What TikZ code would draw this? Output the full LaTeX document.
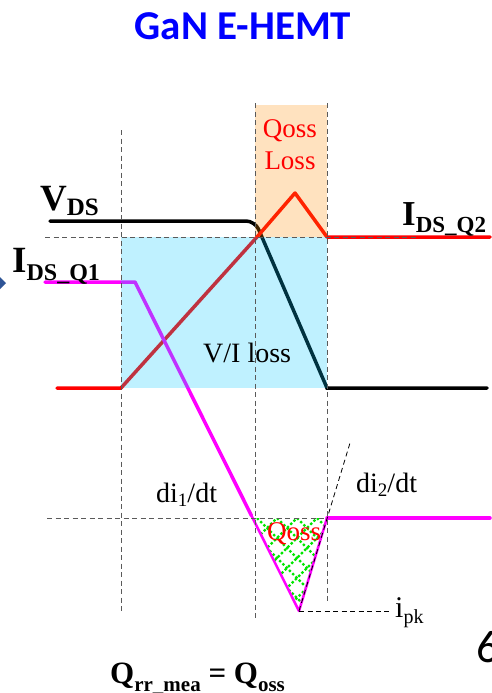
\documentclass[tikz,border=0pt]{standalone}
\usepackage{fontspec}
\setmainfont{Liberation Serif}
\newfontfamily\titlefont{Carlito}
\usetikzlibrary{calc}
\definecolor{ttlblue}{RGB}{0,0,255}
\definecolor{boxblue}{RGB}{0,200,255}
\definecolor{boxorange}{RGB}{255,140,0}
\definecolor{mag}{RGB}{255,0,255}
\definecolor{hatch}{RGB}{0,230,0}
\definecolor{dgray}{RGB}{90,90,90}
\definecolor{dmd}{RGB}{46,84,150}
\newcommand\fs[1]{\fontsize{#1}{#1}\selectfont}
\begin{document}
\begin{tikzpicture}[x=1pt,y=-1pt,
  wave/.style={line width=3.5pt,line join=round,line cap=round},
  guide/.style={draw=dgray,line width=1pt,dash pattern=on 5pt off 3.5pt},
  lbl/.style={inner sep=0pt,anchor=base west}]
\useasboundingbox (0,0) rectangle (492,693);
% coordinates
\coordinate (v0) at (50,221);
\coordinate (v1) at (255,221);
\coordinate (v2) at (327,388);
\coordinate (v3) at (487,388);
\coordinate (r0) at (57,388);
\coordinate (r1) at (121,388);
\coordinate (r2) at (257,237);
\coordinate (r3) at (295,193);
\coordinate (r4) at (327,237);
\coordinate (r5) at (490,237);
\coordinate (m0) at (45,282);
\coordinate (m1) at (135,282);
\coordinate (m2) at (299,611);
\coordinate (m3) at (327,518);
\coordinate (m4) at (490,518);
% hatch in triangle
\begin{scope}
  \clip (m2) -- (252.6,518) -- (m3) -- cycle;
  \foreach \k in {-400,-380,...,400}{
    \draw[hatch,line width=2.4pt,dash pattern=on 2.4pt off 2.2pt] (257+\k,518) -- ++(140,140);
    \draw[hatch,line width=2.4pt,dash pattern=on 2.4pt off 2.2pt] (257+\k,658) -- ++(140,-140);
  }
\end{scope}
% waveforms
\draw[wave,black,rounded corners=9pt] (v0) -- (v1) -- ($(v1)!0.5!(v2)$);
\draw[wave,black,line join=miter] ($(v1)!0.5!(v2)$) -- (v2) -- (v3);
\draw[wave,red] (r0) -- (r1) -- (r2) -- (r3) -- (r4) -- (r5);
\draw[wave,mag] (m0) -- (m1) -- ($(m1)!0.71!(m2)$);
\draw[mag,line width=2.5pt,line join=round] ($(m1)!0.7!(m2)$) -- (m2) -- (m3);
\draw[wave,mag] (m3) -- (m4);
% translucent boxes
\fill[boxblue,opacity=0.25] (121,237) rectangle (327,388);
\fill[boxorange,opacity=0.25] (255,105) rectangle (327,237);
% guides
\draw[guide] (121,130) -- (121,612);
\draw[guide] (255,103) -- (255,620);
\draw[guide] (327,103) -- (327,603);
\draw[guide] (45,237) -- (417,237);
\draw[guide] (47,518) -- (m3);
\draw[guide,draw=black] (m2) -- (392,611);
\draw[guide,draw=black,line width=0.8pt] (m2) -- (350,443);
% partial neighbours
\fill[dmd] (-6,283) -- (0,277) -- (6,283) -- (0,289) -- cycle;
\node[lbl] (six) at (476,662) {\titlefont\fs{46}6};
% labels
\node[inner sep=0pt,anchor=base] (title) at (243,40) {\titlefont\bfseries\fs{41}\textcolor{ttlblue}{GaN E-HEMT}};
\node[lbl] (vds) at (40,210) {\bfseries\fs{37}V\raisebox{-5pt}{\fs{25}DS}};
\node[lbl] (iq1) at (12,272) {\bfseries\fs{37}I\raisebox{-8pt}{\fs{24}DS\_Q1}};
\node[lbl] (iq2) at (402,225) {\bfseries\fs{35}I\raisebox{-7pt}{\fs{23}DS\_Q2}};
\node[inner sep=0pt,anchor=base,text=red] (ql1) at (290,137) {\fs{27}Qoss};
\node[inner sep=0pt,anchor=base,text=red] (ql2) at (290,169) {\fs{27}Loss};
\node[lbl] (vi) at (203,362) {\fs{28}V/I loss};
\node[lbl] (d1) at (156,502) {\fs{28}di\raisebox{-4pt}{\fs{19}1}/dt};
\node[lbl] (d2) at (356,492) {\fs{28}di\raisebox{-4pt}{\fs{19}2}/dt};
\node[lbl,text=red] (qo) at (267,540) {\fs{27}Qoss};
\node[lbl] (ipk) at (395,617) {\fs{30}i\raisebox{-6pt}{\fs{20}pk}};
\node[lbl] (qrr) at (110,683) {\bfseries\fs{31}Q\raisebox{-8pt}{\fs{21}rr\_mea} = Q\raisebox{-8pt}{\fs{21}oss}};
\end{tikzpicture}
\end{document}
